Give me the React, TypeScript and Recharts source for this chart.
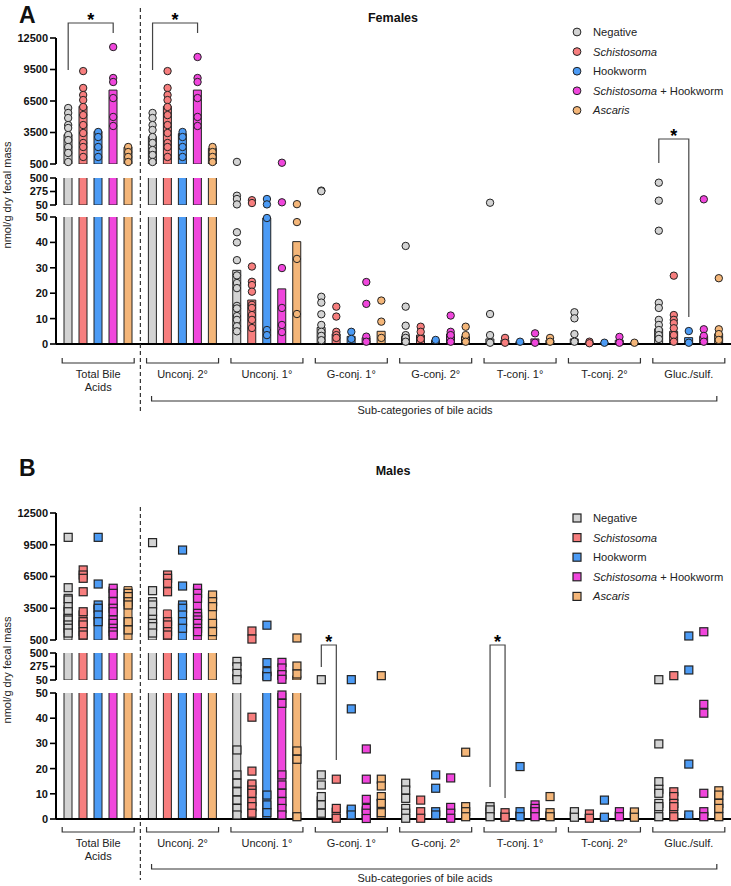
import React from "react";
import { ComposedChart, Bar, Scatter, XAxis, YAxis } from "recharts";

const GROUPS = [
  "Total Bile Acids",
  "Unconj. 2°",
  "Unconj. 1°",
  "G-conj. 1°",
  "G-conj. 2°",
  "T-conj. 1°",
  "T-conj. 2°",
  "Gluc./sulf.",
];
const SERIES = ["Negative", "Schistosoma", "Hookworm", "Schistosoma + Hookworm", "Ascaris"];
const COLORS = ["#d3d3d3", "#f77e7e", "#4c9bf5", "#f046dc", "#f4b679"];

// Females: bar heights (nmol/g dry fecal mass), one entry per group
const F_NEG_BAR = [3300, 3100, 29, 6.5, 3, 2, 2, 6];
const F_SCH_BAR = [6000, 6000, 17.3, 4, 3.5, 1.5, 0.6, 5];
const F_HOOK_BAR = [3600, 3400, 49.6, 3, 1.5, 0.9, 0.5, 2.5];
const F_SH_BAR = [7540, 7540, 21.7, 2.5, 4, 2, 1.5, 3];
const F_ASC_BAR = [2100, 2000, 40.3, 5, 3, 1.5, 0.5, 4];

// Females: individual samples per group
const F_NEG_PTS = [
  [5830, 5360, 4880, 4210, 3930, 3260, 2780, 2120, 1550, 690],
  [5360, 4880, 4210, 3740, 3070, 2500, 1830, 1360, 690],
  [700, 205, 150, 60, 44, 40, 33, 27, 24, 22, 15, 14, 11, 9.5, 7, 5],
  [290, 280, 18.6, 16.3, 11.7, 7.5, 4.8, 3.2, 1.5],
  [38.6, 14.7, 7.2, 3.5, 2.4, 0.9],
  [88, 11.8, 3.5, 0.5],
  [12.5, 10.1, 3.9, 0.9],
  [422, 122, 44.6, 16.2, 14.2, 9.5, 7.5, 5.5, 3.5, 2],
];
const F_SCH_PTS = [
  [9350, 7740, 7070, 6590, 5930, 5160, 4210, 3450, 2500, 2120, 1170],
  [9350, 7740, 7070, 6590, 5930, 5160, 4210, 3450, 2500, 2120, 1170],
  [130, 83, 30.5, 24.5, 23.2, 20.6, 15.4, 14.2, 11.4, 9.5, 6.3],
  [14.7, 10.8, 4.8, 3.5, 2.4],
  [6.8, 4.8, 2],
  [2.4, 0.5],
  [0.9, 0.3],
  [26.9, 11.4, 9.5, 8.2, 6.2, 3.5, 0.9],
];
const F_HOOK_PTS = [
  [3550, 3070, 2120, 1170],
  [3550, 3070, 2120, 1170],
  [150, 60, 49.6, 5.5, 3.5],
  [4.8, 2],
  [1.6],
  [0.9],
  [0.5],
  [5.1, 0.5],
];
const F_SH_PTS = [
  [11640, 8690, 8310, 6780, 4980, 4120],
  [10690, 8690, 8310, 6780, 4980, 4120],
  [620, 95, 29.9, 14.2, 7.5, 4.7],
  [24.4, 15.8, 2.9, 0.9],
  [11.2, 4.8, 3.5, 0.9],
  [4.2, 0.5],
  [2.8, 0.5],
  [145, 5.8, 3.2, 0.9],
];
const F_ASC_PTS = [
  [2120, 1640, 1170, 690],
  [2120, 1640, 1170, 690],
  [64, 48, 33.5, 11.8],
  [17.1, 8.8, 2.4],
  [6.8, 3.5, 0.9],
  [2.4, 0.9],
  [0.5],
  [25.9, 5.8, 3.9, 1.6],
];

// Males: bar heights
const M_NEG_BAR = [3800, 3300, 150, 9, 4, 4.5, 3, 6];
const M_SCH_BAR = [3300, 3340, 15, 4.5, 3.5, 2.8, 2, 5];
const M_HOOK_BAR = [3800, 3960, 200, 5, 3.5, 3, 1.5, 2];
const M_SH_BAR = [5540, 5540, 200, 5, 5, 5, 3, 3];
const M_ASC_BAR = [5540, 4910, 120, 8, 5.5, 3, 3, 10];

// Males: individual samples
const M_NEG_PTS = [
  [10200, 5440, 4440, 4280, 3650, 3170, 2550, 2390, 1920, 1610, 1160],
  [9700, 5160, 4120, 3810, 3170, 2460, 2070, 1760, 1160],
  [360, 270, 160, 55, 27.4, 17.5, 14.2, 10.8, 7.5, 4.2, 1.6],
  [55, 17.5, 13.5, 8.9, 5.6, 2.3],
  [14.2, 11.5, 8.2, 4.2, 2.3, 0.3],
  [4.9, 3.6, 0.9],
  [2.9, 0.7],
  [55, 29.8, 14.8, 11.8, 10.2, 6.2, 4.9, 0.9],
];
const M_SCH_PTS = [
  [7120, 6640, 6330, 5060, 3170, 2230, 1920, 1290, 970],
  [6640, 6330, 5860, 5060, 2230, 1920, 1290, 970],
  [1350, 590, 40.4, 19, 13.9, 11.5, 10.2, 6.9, 4.9, 2.3],
  [15.8, 4.2, 0.3],
  [7.5, 2.9, 0.3],
  [2.5, 0.7],
  [2, 0.3],
  [122, 10.8, 8.9, 6.2, 4.9, 0.9],
];
const M_HOOK_PTS = [
  [10200, 5790, 3810, 3500, 2860, 2230],
  [9000, 5600, 3810, 3500, 2860, 2230, 1610],
  [1900, 339, 189, 105, 9.5, 5.6, 2.5],
  [56, 43.7, 3.9, 1.6],
  [17.5, 12.2, 2.9, 1.6],
  [20.8, 2.9, 0.9],
  [7.5, 0.7],
  [880, 217, 21.8, 1.6],
];
const M_SH_PTS = [
  [5390, 4910, 4120, 3500, 3170, 2390, 2070, 1610, 1290, 970],
  [5390, 4910, 4440, 3020, 2700, 2390, 2070, 1610, 1290],
  [344, 250, 139, 62, 49.2, 45.9, 17.5, 13.5, 10.2, 6.9, 4.2, 1.6],
  [27.8, 15.8, 7.8, 4.2, 2.3, 0.2],
  [16.3, 4.6, 2.3, 0.3],
  [5.6, 4.2, 2.9, 0.9],
  [2.9, 0.9],
  [1280, 45.5, 42, 10.2, 2.9, 0.9],
];
const M_ASC_PTS = [
  [4910, 4600, 4120, 3810, 2230, 1450],
  [4750, 4120, 3650, 2070, 1290],
  [690, 283, 150, 27, 23.7, 0.9],
  [122, 15.8, 13.1, 8.9, 6.2, 2.5],
  [26.5, 4.9, 2.9, 0.9],
  [8.9, 2.5, 0.9],
  [2.8, 0.7],
  [11.2, 9.5, 6.2, 4.2, 0.9],
];

// broken y axis: three stacked ranges
const TOP_TICKS = [500, 3500, 6500, 9500, 12500];
const MID_TICKS = [50, 275, 500];
const LOW_TICKS = [0, 10, 20, 30, 40, 50];

const FONT = '"Liberation Sans", Arial, Helvetica, sans-serif';
const W = 731;
const PLOT_LEFT = 56;
const BAND = (W - PLOT_LEFT) / GROUPS.length;
const STEP = 15;
const BAR_W = 8;
const PAD = 6;

const groupX = (g: number) => PLOT_LEFT + (g + 0.5) * BAND;
const barX = (g: number, s: number) => groupX(g) + (s - 2) * STEP;

type Seg = { lo: number; hi: number; ticks: number[]; top: number; bottom: number; last?: boolean };

const makeSegs = (t: number[]): Seg[] => [
  { lo: 500, hi: 12500, ticks: TOP_TICKS, top: t[0], bottom: t[1] },
  { lo: 50, hi: 500, ticks: MID_TICKS, top: t[2], bottom: t[3] },
  { lo: 0, hi: 50, ticks: LOW_TICKS, top: t[4], bottom: t[5], last: true },
];

function inSeg(v: number, seg: Seg) {
  if (seg.lo === 500) return v >= 500;
  return v >= seg.lo && v < seg.hi;
}

function Marker({ cx, cy, color, square }: { cx: number; cy: number; color: string; square: boolean }) {
  if (cx == null || cy == null) return null;
  return square ? (
    <rect x={cx - 4} y={cy - 4} width={8} height={8} fill={color} stroke="#222" strokeWidth={1.2} />
  ) : (
    <circle cx={cx} cy={cy} r={3.7} fill={color} stroke="#222" strokeWidth={1} />
  );
}

function GroupTick(props: any) {
  const { x, y, payload, gap } = props;
  const label: string = payload.value;
  const lines = label === "Total Bile Acids" ? ["Total Bile", "Acids"] : [label];
  const by = y + gap;
  return (
    <g>
      <path
        d={`M${x - 36},${by - 5} V${by} H${x + 36} V${by - 5}`}
        stroke="#333"
        strokeWidth={1.2}
        fill="none"
      />
      {lines.map((l, i) => (
        <text key={l} x={x} y={by + 15 + i * 13} textAnchor="middle" fontSize={11} fontFamily={FONT} fill="#222">
          {l}
        </text>
      ))}
    </g>
  );
}

function Segment({
  seg,
  bars,
  pts,
  square,
  labelGap,
}: {
  seg: Seg;
  bars: number[][];
  pts: number[][][];
  square: boolean;
  labelGap: number;
}) {
  const axisH = 62;
  const plotH = seg.bottom - seg.top;
  const height = PAD + plotH + (seg.last ? axisH : PAD);
  const rows = GROUPS.map((group, g) => {
    const row: Record<string, any> = { group };
    bars.forEach((b, s) => {
      row[`s${s}`] = b[g] > seg.lo ? b[g] : null;
    });
    return row;
  });
  return (
    <div style={{ position: "absolute", left: 0, top: seg.top - PAD }}>
      <ComposedChart
        width={W}
        height={height}
        data={rows}
        barGap={STEP - BAR_W}
        margin={{ top: PAD, right: 0, bottom: seg.last ? 0 : PAD, left: 0 }}
      >
        <XAxis
          xAxisId="cat"
          dataKey="group"
          type="category"
          hide={!seg.last}
          height={axisH}
          interval={0}
          tickLine={false}
          tickSize={0}
          tickMargin={0}
          axisLine={{ stroke: "#000", strokeWidth: 2 }}
          tick={<GroupTick gap={labelGap} />}
        />
        <XAxis xAxisId="pts" dataKey="x" type="number" domain={[0, GROUPS.length]} hide />
        <YAxis
          yAxisId="bar"
          type="number"
          domain={[seg.lo, seg.hi]}
          ticks={seg.ticks}
          interval={0}
          allowDataOverflow
          width={PLOT_LEFT}
          tickSize={6}
          tickMargin={2}
          axisLine={{ stroke: "#000", strokeWidth: 2 }}
          tickLine={{ stroke: "#000", strokeWidth: 1.6 }}
          tick={{ fontSize: 11, fontWeight: 700, fill: "#111", fontFamily: FONT }}
        />
        <YAxis yAxisId="pts" dataKey="y" type="number" domain={[seg.lo, seg.hi]} hide />
        {bars.map((_, s) => (
          <Bar
            key={`bar-${s}`}
            xAxisId="cat"
            yAxisId="bar"
            dataKey={`s${s}`}
            fill={COLORS[s]}
            stroke="#222"
            strokeWidth={1}
            barSize={BAR_W}
            isAnimationActive={false}
          />
        ))}
        {pts.map((series, s) => {
          const data = series.flatMap((vals, g) =>
            vals
              .filter((v) => inSeg(v, seg))
              .map((v) => ({ x: g + 0.5 + ((s - 2) * STEP) / BAND, y: v }))
          );
          return (
            <Scatter
              key={`pts-${s}`}
              xAxisId="pts"
              yAxisId="pts"
              data={data}
              isAnimationActive={false}
              shape={(p: any) => <Marker cx={p.cx} cy={p.cy} color={COLORS[s]} square={square} />}
            />
          );
        })}
      </ComposedChart>
    </div>
  );
}

function seriesLabel(name: string) {
  const parts = name.split(" + ");
  return parts.map((p, i) => (
    <tspan key={p} fontStyle={p === "Schistosoma" || p === "Ascaris" ? "italic" : "normal"}>
      {i > 0 ? ` + ${p}` : p}
    </tspan>
  ));
}

function SigBracket({ g, s1, s2, top, y1, y2 }: { g: number; s1: number; s2: number; top: number; y1: number; y2: number }) {
  const x1 = barX(g, s1);
  const x2 = barX(g, s2);
  return (
    <g>
      <path d={`M${x1},${y1} V${top} H${x2} V${y2}`} stroke="#444" strokeWidth={1.2} fill="none" />
      <text x={(x1 + x2) / 2} y={top + 3} textAnchor="middle" fontSize={18} fontWeight={700} fontFamily={FONT}>
        *
      </text>
    </g>
  );
}

function Decor({
  letter,
  title,
  titleY,
  legendY,
  square,
  dashTop,
  dashBottom,
  baseline,
  subGap,
  axisLabelY,
}: {
  letter: string;
  title: string;
  titleY: number;
  legendY: number;
  square: boolean;
  dashTop: number;
  dashBottom: number;
  baseline: number;
  subGap: number;
  axisLabelY: number;
}) {
  const subL = groupX(1) - 31;
  const subR = groupX(7) + 28;
  const subY = baseline + subGap;
  return (
    <g fontFamily={FONT}>
      <text x={19} y={titleY + 1} fontSize={23} fontWeight={700} fill="#111">
        {letter}
      </text>
      <text x={393} y={titleY} textAnchor="middle" fontSize={12.5} fontWeight={700} fill="#111">
        {title}
      </text>
      {SERIES.map((name, i) => {
        const y = legendY + i * 19.6;
        return (
          <g key={name}>
            {square ? (
              <rect x={573} y={y - 4} width={8} height={8} fill={COLORS[i]} stroke="#222" strokeWidth={1.2} />
            ) : (
              <circle cx={577} cy={y} r={3.9} fill={COLORS[i]} stroke="#222" strokeWidth={1} />
            )}
            <text x={593} y={y + 4} fontSize={11.2} fill="#222">
              {seriesLabel(name)}
            </text>
          </g>
        );
      })}
      <line
        x1={PLOT_LEFT + BAND}
        x2={PLOT_LEFT + BAND}
        y1={dashTop}
        y2={dashBottom}
        stroke="#333"
        strokeWidth={1.2}
        strokeDasharray="4 3"
      />
      <path d={`M${subL},${subY - 5} V${subY} H${subR} V${subY - 5}`} stroke="#333" strokeWidth={1.2} fill="none" />
      <text x={425} y={subY + 13} textAnchor="middle" fontSize={11} fill="#222">
        Sub-categories of bile acids
      </text>
      <text
        transform={`translate(11,${axisLabelY}) rotate(-90)`}
        textAnchor="middle"
        fontSize={11}
        fill="#222"
      >
        nmol/g dry fecal mass
      </text>
    </g>
  );
}

function Panel({
  segs,
  bars,
  pts,
  square,
  labelGap,
}: {
  segs: Seg[];
  bars: number[][];
  pts: number[][][];
  square: boolean;
  labelGap: number;
}) {
  return (
    <>
      {segs.map((seg) => (
        <Segment key={seg.lo} seg={seg} bars={bars} pts={pts} square={square} labelGap={labelGap} />
      ))}
    </>
  );
}

export default function App() {
  const femaleSegs = makeSegs([38, 164, 178, 205, 217, 344]);
  const maleSegs = makeSegs([513, 640, 653, 680, 693, 819]);
  return (
    <div
      style={{
        position: "absolute",
        left: 0,
        top: 0,
        width: W,
        height: 886,
        background: "#fff",
        fontFamily: FONT,
        overflow: "hidden",
      }}
    >
      <Panel
        segs={femaleSegs}
        bars={[F_NEG_BAR, F_SCH_BAR, F_HOOK_BAR, F_SH_BAR, F_ASC_BAR]}
        pts={[F_NEG_PTS, F_SCH_PTS, F_HOOK_PTS, F_SH_PTS, F_ASC_PTS]}
        square={false}
        labelGap={19}
      />
      <Panel
        segs={maleSegs}
        bars={[M_NEG_BAR, M_SCH_BAR, M_HOOK_BAR, M_SH_BAR, M_ASC_BAR]}
        pts={[M_NEG_PTS, M_SCH_PTS, M_HOOK_PTS, M_SH_PTS, M_ASC_PTS]}
        square
        labelGap={13}
      />
      <svg width={W} height={886} style={{ position: "absolute", left: 0, top: 0, pointerEvents: "none" }}>
        <Decor
          letter="A"
          title="Females"
          titleY={22}
          legendY={32}
          square={false}
          dashTop={8}
          dashBottom={413}
          baseline={344}
          subGap={57}
          axisLabelY={195}
        />
        <SigBracket g={0} s1={0} s2={3} top={23} y1={70} y2={33} />
        <SigBracket g={1} s1={0} s2={3} top={23} y1={70} y2={33} />
        <SigBracket g={7} s1={0} s2={2} top={139} y1={163} y2={317} />
        <Decor
          letter="B"
          title="Males"
          titleY={475}
          legendY={518}
          square
          dashTop={507}
          dashBottom={880}
          baseline={819}
          subGap={50}
          axisLabelY={670}
        />
        <SigBracket g={3} s1={0} s2={1} top={645} y1={667} y2={760} />
        <SigBracket g={5} s1={0} s2={1} top={645} y1={787} y2={798} />
      </svg>
    </div>
  );
}
